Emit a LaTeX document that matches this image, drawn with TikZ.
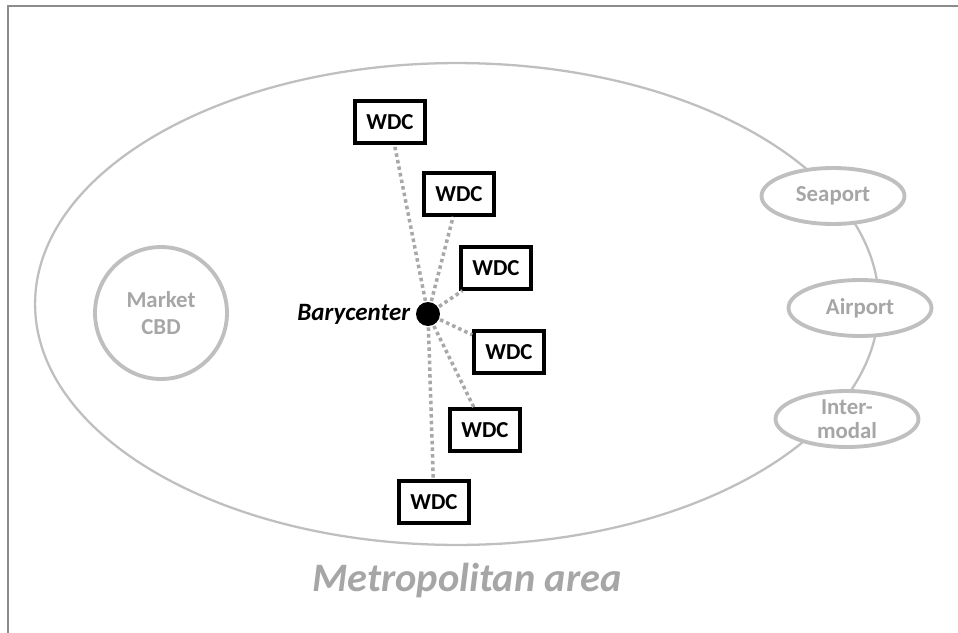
\documentclass[tikz,border=0pt]{standalone}
\usepackage{fontspec}
\setmainfont{Carlito}
\usetikzlibrary{shapes.geometric}

\definecolor{lgray}{HTML}{BFBFBF}
\definecolor{tgray}{HTML}{A6A6A6}
\definecolor{dgray}{HTML}{A8A8A8}
\definecolor{fgray}{HTML}{8C8C8C}

\begin{document}
\begin{tikzpicture}[x=0.02cm,y=-0.02cm,
	wdc/.style={draw=black, line width=2pt, minimum width=1.4cm, minimum height=0.84cm, inner sep=0pt, font=\bfseries\fontsize{13}{15}\selectfont},
	hub/.style={ellipse, draw=lgray, fill=white, line width=2.2pt, text=tgray, minimum width=2.86cm, minimum height=1.12cm, inner sep=0pt, align=center, font=\bfseries\fontsize{13}{14}\selectfont},
	link/.style={dgray, line width=2pt, dash pattern=on 2pt off 1.8pt}]

    \useasboundingbox (0,0) rectangle (958,633);
    \draw[fgray, line width=1pt] (8,633) -- (8,6) -- (958,6);

    % metropolitan area
    \node[ellipse, draw=lgray, line width=1.3pt, minimum width=16.88cm, minimum height=9.64cm] (metro) at (457,304) {};
    \node[text=tgray, font=\bfseries\itshape\fontsize{23}{27}\selectfont] (metrolabel) at (467,580) {Metropolitan area};

    \node[circle, draw=lgray, line width=2.2pt, text=tgray, minimum size=2.64cm, align=center, font=\bfseries\fontsize{13}{15}\selectfont] (cbd) at (161,313) {Market\\CBD};

    \node[hub] (seaport) at (833,196) {Seaport};
    \node[hub] (airport) at (860,308) {Airport};
    \node[hub] (intermodal) at (847,419) {Inter-\\modal};

    % warehouses
    \node[wdc] (wdc1) at (390,122) {WDC};
    \node[wdc] (wdc2) at (459,194) {WDC};
    \node[wdc] (wdc3) at (496,268) {WDC};
    \node[wdc] (wdc4) at (509,352) {WDC};
    \node[wdc] (wdc5) at (485,430) {WDC};
    \node[wdc] (wdc6) at (434,502) {WDC};

    \coordinate (bc) at (428,314);
    \foreach \w in {1,...,6}
        \draw[link] (bc) -- (wdc\w);

    \node[circle, fill=black, minimum size=0.48cm, inner sep=0pt] (bary) at (bc) {};
    \node[anchor=east, inner sep=0pt, font=\bfseries\itshape\fontsize{14.2}{16}\selectfont] (barylabel) at ([xshift=-3pt]bary.west) {Barycenter};
\end{tikzpicture}
\end{document}
